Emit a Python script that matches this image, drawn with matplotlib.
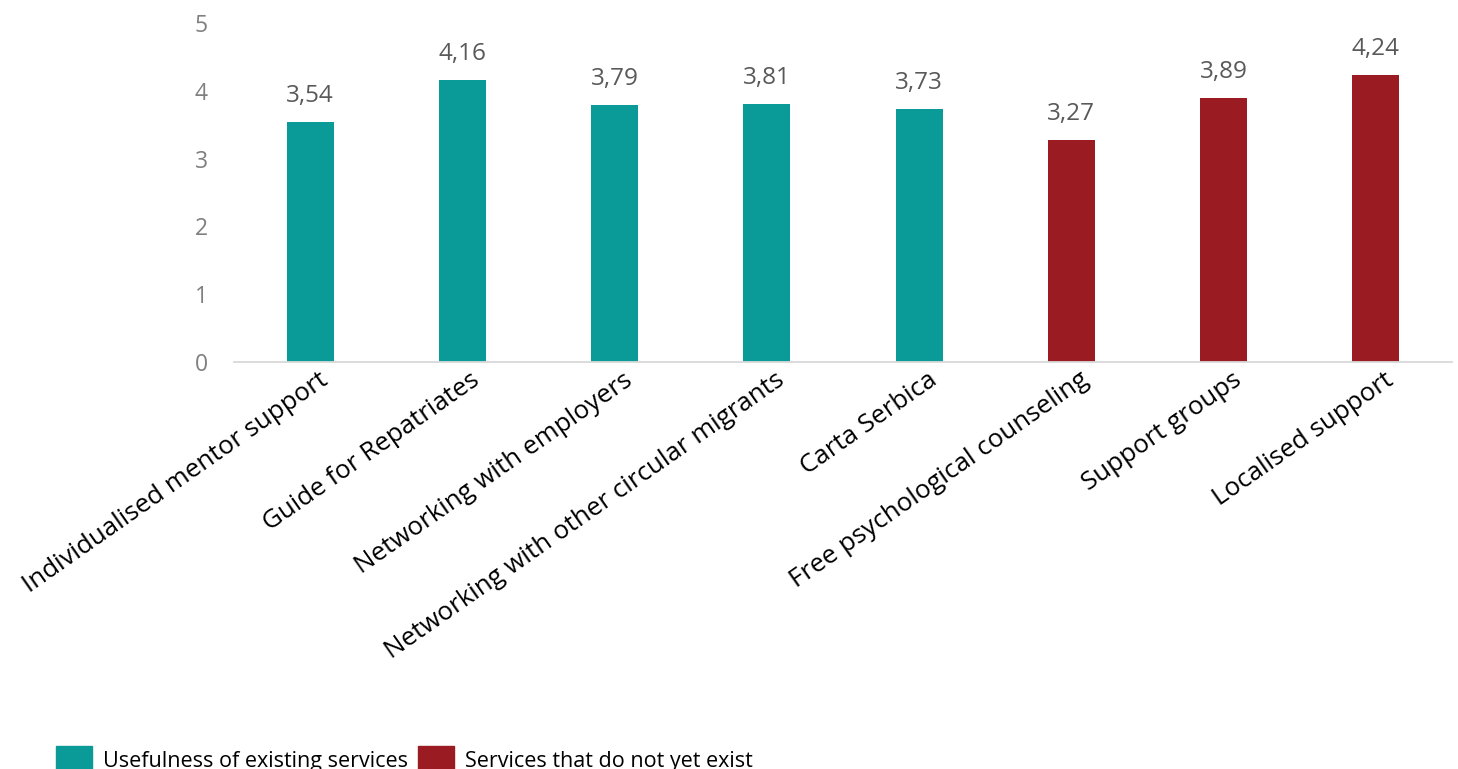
import matplotlib
matplotlib.use('Agg')
import matplotlib.pyplot as plt
import matplotlib.transforms as mtransforms
from matplotlib.patches import Patch

# Data
categories = ['Individualised mentor support', 'Guide for Repatriates', 'Networking with employers',
              'Networking with other circular migrants', 'Carta Serbica', 'Free psychological counseling',
              'Support groups', 'Localised support']
values = [3.54, 4.16, 3.79, 3.81, 3.73, 3.27, 3.89, 4.24]
groups = ['existing'] * 5 + ['new'] * 3
legend_labels = ['Usefulness of existing services', 'Services that do not yet exist']

teal = '#0A9A98'
red = '#9A1C22'
colors = [teal if g == 'existing' else red for g in groups]

plt.rcParams['font.family'] = ['Open Sans', 'DejaVu Sans']

fig = plt.figure(figsize=(14.58, 7.69), dpi=100)
ax = fig.add_axes([0.1605, 0.5293, 0.8354, 0.4407])

x = range(len(categories))
ax.bar(x, values, width=0.31, color=colors)

for xi, v in zip(x, values):
    ax.annotate(f'{v:.2f}'.replace('.', ','), (xi, v), xytext=(0, 10), textcoords='offset points',
                ha='center', va='bottom', fontsize=17.5, color='#595959')

ax.set_xlim(-0.5, len(categories) - 0.5)
ax.set_ylim(0, 5)
ax.set_yticks(range(6))
ax.tick_params(axis='y', length=0, labelsize=16.5, labelcolor='#7f7f7f', pad=19)
ax.tick_params(axis='x', length=0, labelsize=18.6, labelcolor='black', pad=4)
ax.set_xticks(list(x))
ax.set_xticklabels(categories, rotation=35, ha='right', rotation_mode='anchor')

# nudge the rotated labels a bit to the right
offset = mtransforms.ScaledTranslation(8 / 100, 0, fig.dpi_scale_trans)
for lbl in ax.get_xticklabels():
    lbl.set_transform(lbl.get_transform() + offset)

for s in ['top', 'right', 'left']:
    ax.spines[s].set_visible(False)
ax.spines['bottom'].set_color('#d9d9d9')
ax.spines['bottom'].set_linewidth(1.3)

handles = [Patch(color=teal), Patch(color=red)]
fig.legend(handles, legend_labels, loc='lower left', bbox_to_anchor=(0.025, -0.03), ncol=2,
           frameon=False, fontsize=15.5, handlelength=1.67, handleheight=1.5, handletextpad=0.5,
           columnspacing=0.5)

fig.savefig('out.png', dpi=100)
